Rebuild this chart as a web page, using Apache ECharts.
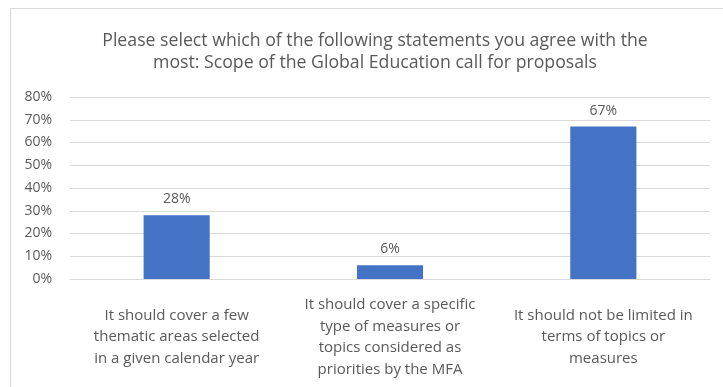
<!DOCTYPE html>
<html>
<head>
<meta charset="utf-8">
<script src="https://cdn.jsdelivr.net/npm/echarts@6/dist/echarts.min.js"></script>
<style>
  html, body { margin: 0; padding: 0; background: #fff; }
  #chart { width: 723px; height: 387px; }
</style>
</head>
<body>
<div id="chart"></div>
<script>
// Survey answers and their shares (percent)
const categories = [
  'It should cover a few\nthematic areas selected\nin a given calendar year',
  'It should cover a specific\ntype of measures or\ntopics considered as\npriorities by the MFA',
  'It should not be limited in\nterms of topics or\nmeasures'
];
const shares = [28, 6, 67];
const yTicks = [0, 10, 20, 30, 40, 50, 60, 70, 80];

const FONT = '"Open Sans", "Noto Sans", sans-serif';
const TEXT = '#595959';

const chart = echarts.init(document.getElementById('chart'), null, { renderer: 'canvas' });
chart.setOption({
  backgroundColor: '#ffffff',
  animation: false,
  title: {
    text: 'Please select which of the following statements you agree with the\nmost: Scope of the Global Education call for proposals',
    left: 370,
    top: 25,
    textAlign: 'center',
    textStyle: { fontFamily: FONT, fontSize: 17.7, fontWeight: 'normal', color: TEXT, lineHeight: 22 }
  },
  graphic: [{
    type: 'rect',
    shape: { x: 10.5, y: 8.5, width: 740, height: 400 },
    style: { fill: 'none', stroke: '#D9D9D9', lineWidth: 1 },
    silent: true
  }],
  grid: { left: 70, right: 13, top: 97, bottom: 108, containLabel: false },
  xAxis: {
    type: 'category',
    data: categories,
    axisLine: { show: true, lineStyle: { color: '#D9D9D9', width: 1 } },
    axisTick: { show: false },
    axisLabel: {
      interval: 0,
      margin: 58,
      verticalAlign: 'middle',
      fontFamily: FONT, fontSize: 15, color: TEXT, lineHeight: 21.5
    }
  },
  yAxis: {
    type: 'value',
    min: yTicks[0],
    max: yTicks[yTicks.length - 1],
    interval: 10,
    axisLine: { show: false },
    axisTick: { show: false },
    splitLine: { lineStyle: { color: '#D9D9D9', width: 1 } },
    axisLabel: {
      margin: 18,
      formatter: v => v + '%',
      fontFamily: FONT, fontSize: 14, color: TEXT,
      padding: [3, 0, 0, 0]
    }
  },
  series: [{
    type: 'bar',
    data: shares,
    barWidth: '31%',
    itemStyle: { color: '#4472C4' },
    label: {
      show: true,
      position: 'top',
      distance: 9,
      formatter: p => p.value + '%',
      fontFamily: FONT, fontSize: 14, color: TEXT
    }
  }]
});
</script>
</body>
</html>
